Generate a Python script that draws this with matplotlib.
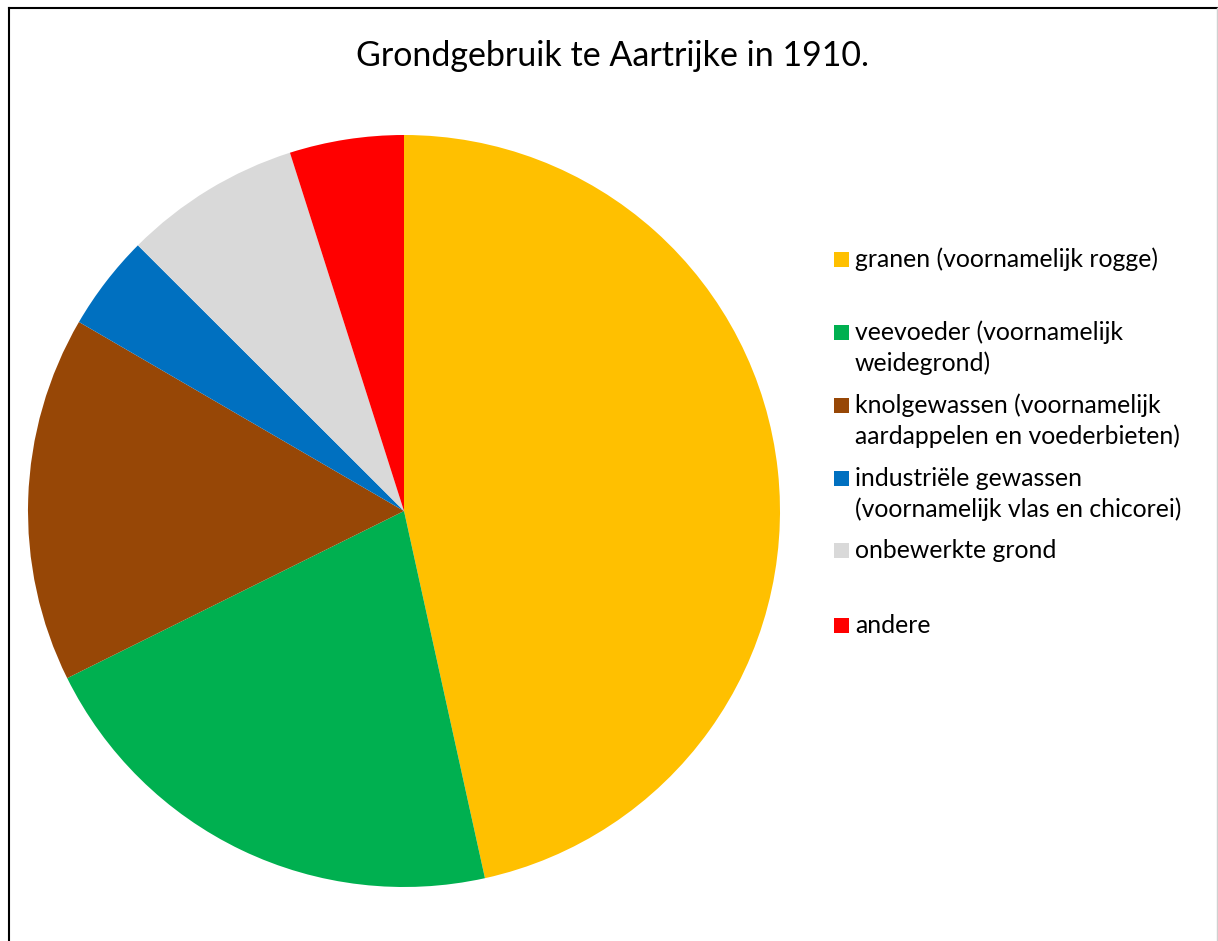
import matplotlib.pyplot as plt
from matplotlib.patches import Rectangle
from matplotlib.lines import Line2D

plt.rcParams['font.family'] = ['Lato', 'DejaVu Sans']

title = 'Grondgebruik te Aartrijke in 1910.'
labels = ['granen (voornamelijk rogge)',
          'veevoeder (voornamelijk\nweidegrond)',
          'knolgewassen (voornamelijk\naardappelen en voederbieten)',
          'industriële gewassen\n(voornamelijk vlas en chicorei)',
          'onbewerkte grond',
          'andere']
shares = [46.5, 21.1, 15.7, 4.1, 7.6, 4.9]
colors = ['#FFC000', '#00B050', '#974706', '#0070C0', '#D9D9D9', '#FF0000']

W, H = 1218, 941
fig = plt.figure(figsize=(W / 100, H / 100), dpi=100)

# pie: centre (404, 511) px, radius 376 px
cx, cy, r = 404, 511, 376
ax = fig.add_axes([(cx - r) / W, (H - cy - r) / H, 2 * r / W, 2 * r / H])
ax.pie(shares, colors=colors, startangle=90, counterclock=False,
       wedgeprops=dict(linewidth=0))
ax.set_xlim(-1, 1)
ax.set_ylim(-1, 1)
ax.axis('off')

fig.text(613 / W, 1 - 66 / H, title, ha='center', va='baseline', fontsize=24.5)

# legend drawn like Excel: marker aligned with first text line
first_baselines = [267, 340, 413, 486, 558, 633]
for lab, col, yb in zip(labels, colors, first_baselines):
    fig.add_artist(Rectangle((834 / W, 1 - yb / H), 15 / W, 15 / H,
                             transform=fig.transFigure, color=col, lw=0))
    for k, line in enumerate(lab.split('\n')):
        fig.text(855 / W, 1 - (yb + 31 * k) / H, line, ha='left',
                 va='baseline', fontsize=17.8)

# chart frame
fig.add_artist(Line2D([9 / W, 9 / W], [0, 1 - 8 / H], color='black', lw=1.5))
fig.add_artist(Line2D([9 / W, 1217 / W], [1 - 8 / H, 1 - 8 / H], color='black', lw=1.5))
fig.add_artist(Line2D([1217 / W, 1217 / W], [0, 1 - 8 / H], color='#D0D0D0', lw=1))

fig.savefig('out.png', dpi=100)
